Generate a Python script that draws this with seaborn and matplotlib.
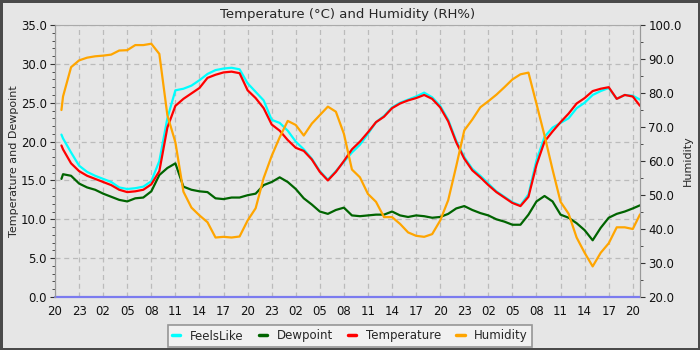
import matplotlib.pyplot as plt
import matplotlib.dates as mdates
from matplotlib.ticker import MultipleLocator, FormatStrFormatter
import pandas as pd
import seaborn as sns

# hours since the first 20:00 tick
HOURS = [0.8] + list(range(1, 73)) + [72.9]

TEMPERATURE = [
    19.5, 19.0, 17.2, 16.2, 15.6, 15.2, 14.8, 14.4, 13.8, 13.5, 13.6,
    13.8, 14.5, 16.2, 21.8, 24.6, 25.5, 26.2, 26.9, 28.2, 28.6,
    28.9, 29.0, 28.8, 26.6, 25.6, 24.3, 22.2, 21.4, 20.2, 19.2,
    18.8, 17.7, 16.1, 15.0, 16.1, 17.5, 19.0, 20.0, 21.2, 22.5,
    23.2, 24.3, 24.9, 25.3, 25.6, 26.0, 25.5, 24.4, 22.6, 19.9,
    17.8, 16.3, 15.4, 14.4, 13.5, 12.8, 12.1, 11.7, 12.9, 17.0,
    20.0, 21.3, 22.5, 23.6, 24.9, 25.6, 26.5, 26.8, 27.0, 25.5,
    26.0, 25.8, 24.6,
]

FEELSLIKE = [
    20.9, 20.4, 18.6, 16.9, 16.1, 15.6, 15.2, 14.8, 14.1, 13.9, 14.0,
    14.2, 14.9, 17.5, 23.0, 26.6, 26.8, 27.2, 27.9, 28.7, 29.2,
    29.4, 29.5, 29.3, 27.5, 26.4, 25.3, 22.8, 22.4, 21.4, 20.0,
    19.0, 17.8, 16.2, 15.1, 16.2, 17.4, 18.6, 19.6, 21.0, 22.5,
    23.3, 24.4, 25.0, 25.4, 25.8, 26.3, 25.7, 24.6, 22.8, 20.1,
    18.0, 16.5, 15.6, 14.6, 13.6, 12.9, 12.2, 11.8, 13.2, 17.6,
    20.6, 21.8, 22.4, 23.0, 24.3, 25.0, 26.0, 26.5, 26.9, 25.5,
    26.0, 25.9, 25.4,
]

DEWPOINT = [
    15.2, 15.8, 15.6, 14.6, 14.1, 13.8, 13.3, 12.9, 12.5, 12.3, 12.7,
    12.8, 13.6, 15.7, 16.6, 17.2, 14.2, 13.8, 13.6, 13.5, 12.7,
    12.6, 12.8, 12.8, 13.1, 13.3, 14.4, 14.8, 15.4, 14.8, 13.9,
    12.7, 11.9, 11.0, 10.7, 11.2, 11.5, 10.5, 10.4, 10.5, 10.6,
    10.6, 11.0, 10.5, 10.3, 10.5, 10.4, 10.2, 10.3, 10.7, 11.4,
    11.7, 11.2, 10.8, 10.5, 10.0, 9.7, 9.3, 9.3, 10.6, 12.3,
    13.0, 12.3, 10.6, 10.2, 9.5, 8.6, 7.3, 8.9, 10.2, 10.7,
    11.0, 11.4, 11.8,
]

HUMIDITY = [
    75.0, 79.0, 87.6, 89.6, 90.4, 90.8, 91.0, 91.3, 92.5, 92.6, 94.1,
    94.1, 94.5, 91.5, 73.5, 65.5, 51.0, 46.3, 44.0, 42.0, 37.5,
    37.7, 37.5, 37.8, 42.5, 46.1, 55.0, 61.5, 67.0, 71.8, 70.6,
    67.5, 71.0, 73.5, 76.0, 74.5, 68.0, 57.5, 55.2, 50.3, 48.0,
    43.5, 43.5, 41.5, 39.0, 38.0, 37.7, 38.5, 42.5, 48.5, 58.5,
    69.0, 72.2, 75.8, 77.6, 79.5, 81.7, 84.0, 85.5, 86.0, 76.8,
    67.5, 57.5, 48.0, 44.5, 37.5, 33.0, 29.0, 33.0, 35.8, 40.5,
    40.5, 40.0, 44.3,
]

START = pd.Timestamp("2024-05-20 20:00")
END_HOURS = 72.9

bg = "#e6e6e6"
sns.set_style("white", {"axes.facecolor": bg, "figure.facecolor": bg})
plt.rcParams["font.family"] = ["DejaVu Sans"]

times = START + pd.to_timedelta(HOURS, unit="h")
df = pd.DataFrame({
    "time": times,
    "FeelsLike": FEELSLIKE,
    "Dewpoint": DEWPOINT,
    "Temperature": TEMPERATURE,
    "Humidity": HUMIDITY,
})

fig = plt.figure(figsize=(7, 3.5), dpi=100)
fig.patch.set_facecolor(bg)
fig.patch.set_edgecolor("#4a4a4a")
fig.patch.set_linewidth(3.5)
ax = fig.add_axes([0.0786, 0.1514, 0.8357, 0.7771])
ax2 = ax.twinx()

lw = 1.6
sns.lineplot(data=df, x="time", y="FeelsLike", color="#00ffff", lw=lw, ax=ax, label="FeelsLike", legend=False)
sns.lineplot(data=df, x="time", y="Dewpoint", color="#006400", lw=lw, ax=ax, label="Dewpoint", legend=False)
sns.lineplot(data=df, x="time", y="Temperature", color="#ff0000", lw=lw, ax=ax, label="Temperature", legend=False)
sns.lineplot(data=df, x="time", y="Humidity", color="#ffa500", lw=lw, ax=ax2, label="Humidity", legend=False)
ax.axhline(0, color="#7b7bef", lw=1.6, zorder=5, clip_on=False)

ax.set_xlim(START, START + pd.Timedelta(hours=END_HOURS))
ax.set_ylim(0, 35)
ax2.set_ylim(20, 100)

ax.xaxis.set_major_locator(mdates.HourLocator(byhour=[2, 5, 8, 11, 14, 17, 20, 23]))
ax.xaxis.set_minor_locator(mdates.HourLocator())
ax.xaxis.set_major_formatter(mdates.DateFormatter("%H"))
ax.yaxis.set_major_locator(MultipleLocator(5))
ax.yaxis.set_minor_locator(MultipleLocator(1))
ax.yaxis.set_major_formatter(FormatStrFormatter("%.1f"))
ax2.yaxis.set_major_locator(MultipleLocator(10))
ax2.yaxis.set_minor_locator(MultipleLocator(5))
ax2.yaxis.set_major_formatter(FormatStrFormatter("%.1f"))

for a in (ax, ax2):
    a.tick_params(which="both", direction="out", color="#333333", labelsize=8.5, labelcolor="#111111")
    a.tick_params(which="major", length=3.5, pad=2.5)
    a.tick_params(which="minor", length=2.5)
    for side in ["top", "bottom"]:
        a.spines[side].set_visible(False)
    a.spines["left"].set_color("#999999")
    a.spines["right"].set_color("#999999")
ax.spines["top"].set_visible(True)
ax.spines["top"].set_color("#aaaaaa")

ax.grid(True, which="major", color="#bbbbbb", ls=(0, (4, 3)), lw=0.9)
ax.set_axisbelow(True)

ax.set_xlabel("")
ax.set_ylabel("Temperature and Dewpoint", fontsize=8, labelpad=1)
ax2.set_ylabel("Humidity", fontsize=8, labelpad=1)
ax.set_title("Temperature (°C) and Humidity (RH%)", fontsize=9.5, pad=5)

handles = ax.get_lines()[:3] + ax2.get_lines()[:1]
leg = fig.legend(
    handles, ["FeelsLike", "Dewpoint", "Temperature", "Humidity"],
    loc="center", bbox_to_anchor=(0.5, 0.04), ncol=4, fontsize=8.5,
    frameon=True, fancybox=False, handlelength=0.7, columnspacing=1.3,
    handletextpad=0.8, borderpad=0.35,
)
leg.get_frame().set_facecolor("#f4f4f4")
leg.get_frame().set_edgecolor("#808080")
leg.get_frame().set_linewidth(1.2)
for line in leg.get_lines():
    line.set_linewidth(2.5)

fig.savefig("out.png", dpi=100, facecolor=bg, edgecolor="#4a4a4a")
